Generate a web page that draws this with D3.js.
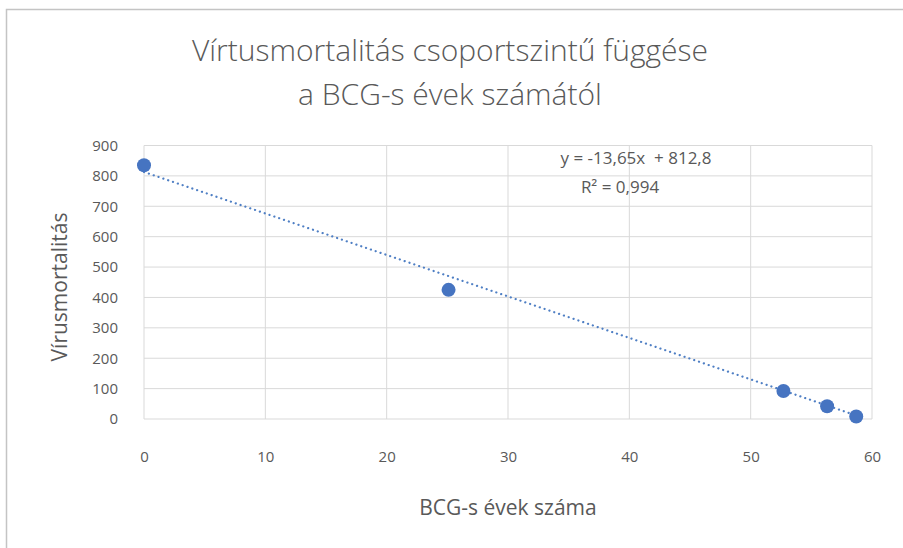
<!DOCTYPE html>
<html>
<head>
<meta charset="utf-8">
<script src="https://cdn.jsdelivr.net/npm/d3@7"></script>
<style>
  body { margin: 0; background: #fff; }
  text { font-family: "Open Sans", "Noto Sans", sans-serif; fill: #595959; }
</style>
</head>
<body>
<svg id="chart"></svg>
<script>
// Adatok
const bcgYears = [0, 25.1, 52.7, 56.3, 58.7];
const mortality = [835, 425, 92, 42, 8];
const xTicks = [0, 10, 20, 30, 40, 50, 60];
const yTicks = [0, 100, 200, 300, 400, 500, 600, 700, 800, 900];
const trendSlope = -13.65;
const trendIntercept = 812.8;
const titleLines = ["Vírtusmortalitás csoportszintű függése", "a BCG-s évek számától"];

const width = 903, height = 548;
const svg = d3.select("#chart").attr("width", width).attr("height", height);

// Keret
svg.append("rect")
  .attr("x", 6.5).attr("y", 9.5)
  .attr("width", 1000).attr("height", 1000)
  .attr("fill", "none").attr("stroke", "#c4c4c4").attr("stroke-width", 1.5);

const x = d3.scaleLinear().domain([0, 60]).range([144, 872]);
const y = d3.scaleLinear().domain([0, 900]).range([419, 145.5]);

// Rács
svg.append("g")
  .selectAll("line.h")
  .data(yTicks)
  .enter().append("line")
  .attr("x1", x(0)).attr("x2", x(60))
  .attr("y1", d => y(d)).attr("y2", d => y(d))
  .attr("stroke", "#d9d9d9").attr("stroke-width", 1);

svg.append("g")
  .selectAll("line.v")
  .data(xTicks)
  .enter().append("line")
  .attr("x1", d => x(d)).attr("x2", d => x(d))
  .attr("y1", y(0)).attr("y2", y(900))
  .attr("stroke", "#d9d9d9").attr("stroke-width", 1);

// Tengelyek
const yAxis = svg.append("g")
  .attr("transform", `translate(${x(0)},0)`)
  .call(d3.axisLeft(y).tickValues(yTicks).tickSize(0).tickPadding(26));
yAxis.select(".domain").remove();
yAxis.selectAll("text").style("font-size", "15px").attr("fill", "#595959");

const xAxis = svg.append("g")
  .attr("transform", `translate(0,${y(0)})`)
  .call(d3.axisBottom(x).tickValues(xTicks).tickSize(0).tickPadding(32));
xAxis.select(".domain").remove();
xAxis.selectAll("text").style("font-size", "15px").attr("fill", "#595959");

// Trendvonal
svg.append("line")
  .attr("x1", x(0)).attr("y1", y(trendIntercept))
  .attr("x2", x(d3.max(bcgYears))).attr("y2", y(trendIntercept + trendSlope * d3.max(bcgYears)))
  .attr("stroke", "#4f7fc4").attr("stroke-width", 2.2)
  .attr("stroke-dasharray", "0.1,5").attr("stroke-linecap", "round");

// Pontok
svg.append("g")
  .selectAll("circle")
  .data(bcgYears.map((d, i) => [d, mortality[i]]))
  .enter().append("circle")
  .attr("cx", d => x(d[0]))
  .attr("cy", d => y(d[1]))
  .attr("r", 7)
  .attr("fill", "#4674c1");

// Cím
svg.append("g")
  .selectAll("text")
  .data(titleLines)
  .enter().append("text")
  .attr("x", 450)
  .attr("y", (d, i) => 61 + i * 44)
  .attr("text-anchor", "middle")
  .style("font-size", "30px")
  .style("font-weight", 300)
  .text(d => d);

// Tengelycímek
svg.append("text")
  .attr("transform", "translate(67,287) rotate(-90)")
  .attr("text-anchor", "middle")
  .style("font-size", "21px")
  .text("Vírusmortalitás");

svg.append("text")
  .attr("x", 508).attr("y", 515)
  .attr("text-anchor", "middle")
  .style("font-size", "21px")
  .text("BCG-s évek száma");

// Egyenlet
svg.append("text")
  .attr("x", 636).attr("y", 164)
  .attr("text-anchor", "middle")
  .style("font-size", "17px")
  .style("white-space", "pre")
  .text("y = -13,65x  + 812,8");

svg.append("text")
  .attr("x", 620).attr("y", 193)
  .attr("text-anchor", "middle")
  .style("font-size", "17px")
  .text("R² = 0,994");
</script>
</body>
</html>
